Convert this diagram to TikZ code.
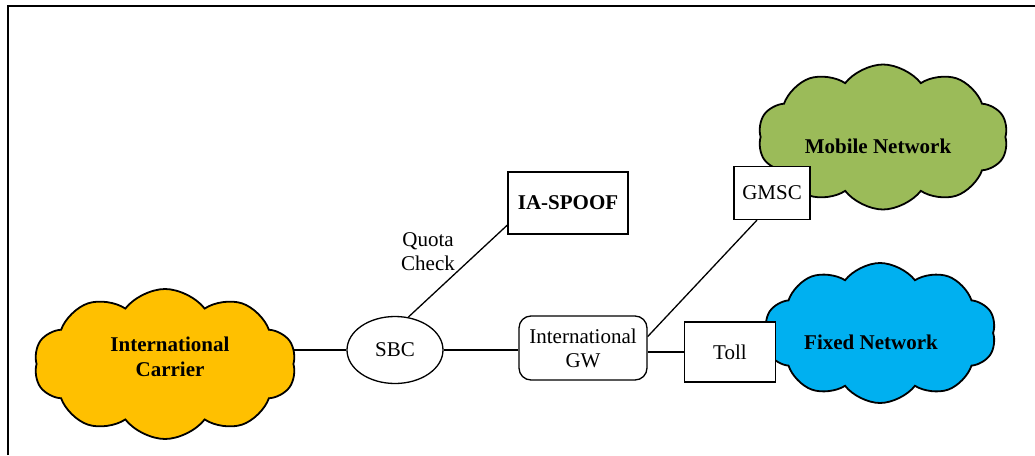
\documentclass[tikz,border=0pt]{standalone}
\usepackage{fontspec}
\setmainfont{Liberation Serif}
\usetikzlibrary{shapes.symbols,shapes.geometric}
\definecolor{cyellow}{HTML}{FFC000}
\definecolor{cgreen}{HTML}{9BBB59}
\definecolor{cblue}{HTML}{00B0F0}
\begin{document}
\begin{tikzpicture}[x=1pt,y=-1pt,
  txt/.style={font=\fontsize{21}{24}\selectfont, align=center, inner sep=0pt},
  btxt/.style={font=\fontsize{21}{25}\selectfont\bfseries, align=center, inner sep=0pt},
  cloudbox/.style={cloud, cloud puffs=10, cloud puff arc=105, draw=black, line width=1.8pt, inner sep=0pt},
  box/.style={draw=black, line width=1.3pt, fill=white, inner sep=0pt, font=\fontsize{21}{24}\selectfont, align=center},
  conn/.style={draw=black, line width=1.3pt}]
\useasboundingbox (0,0) rectangle (1035,455);
\draw[line width=1.8pt] (8,455) -- (8,6) -- (1035,6);
% clouds
\node[cloudbox, fill=cyellow, minimum width=262, minimum height=150, shape border rotate=5] (ic) at (165,364) {};
\node[btxt] (ictext) at (170,357) {International\\Carrier};
\node[cloudbox, fill=cgreen, minimum width=250, minimum height=145, shape border rotate=12] (mob) at (883,137) {};
\node[btxt] (mobtext) at (878,146) {Mobile Network};
\node[cloudbox, fill=cblue, minimum width=232, minimum height=140, shape border rotate=-8] (fix) at (880,333) {};
\node[btxt] (fixtext) at (871,342) {Fixed Network};
% boxes
\node[box, ellipse, minimum width=96, minimum height=67] (sbc) at (395,350) {SBC};
\node[box, font=\fontsize{21}{24}\selectfont\bfseries, minimum width=120, minimum height=62] (spoof) at (568,203) {IA-SPOOF};
\node[box, rounded corners=12pt, minimum width=128, minimum height=64] (gw) at (583,348) {International\\GW};
\node[box, minimum width=91, minimum height=60] (toll) at (730,352) {Toll};
\node[box, minimum width=76, minimum height=53] (gmsc) at (772,193) {GMSC};
\node[txt] (quota) at (428,252) {Quota\\Check};
% connectors
\draw[conn] (ic.east |- sbc.west) -- (sbc.west);
\draw[conn] (sbc.east) -- (gw.west |- sbc.east);
\draw[conn] (gw.east |- toll.west) -- (toll.west);
\draw[conn] (sbc.68) -- (spoof.200);
\draw[conn] (gw.10) -- (gmsc.241);
\end{tikzpicture}
\end{document}
